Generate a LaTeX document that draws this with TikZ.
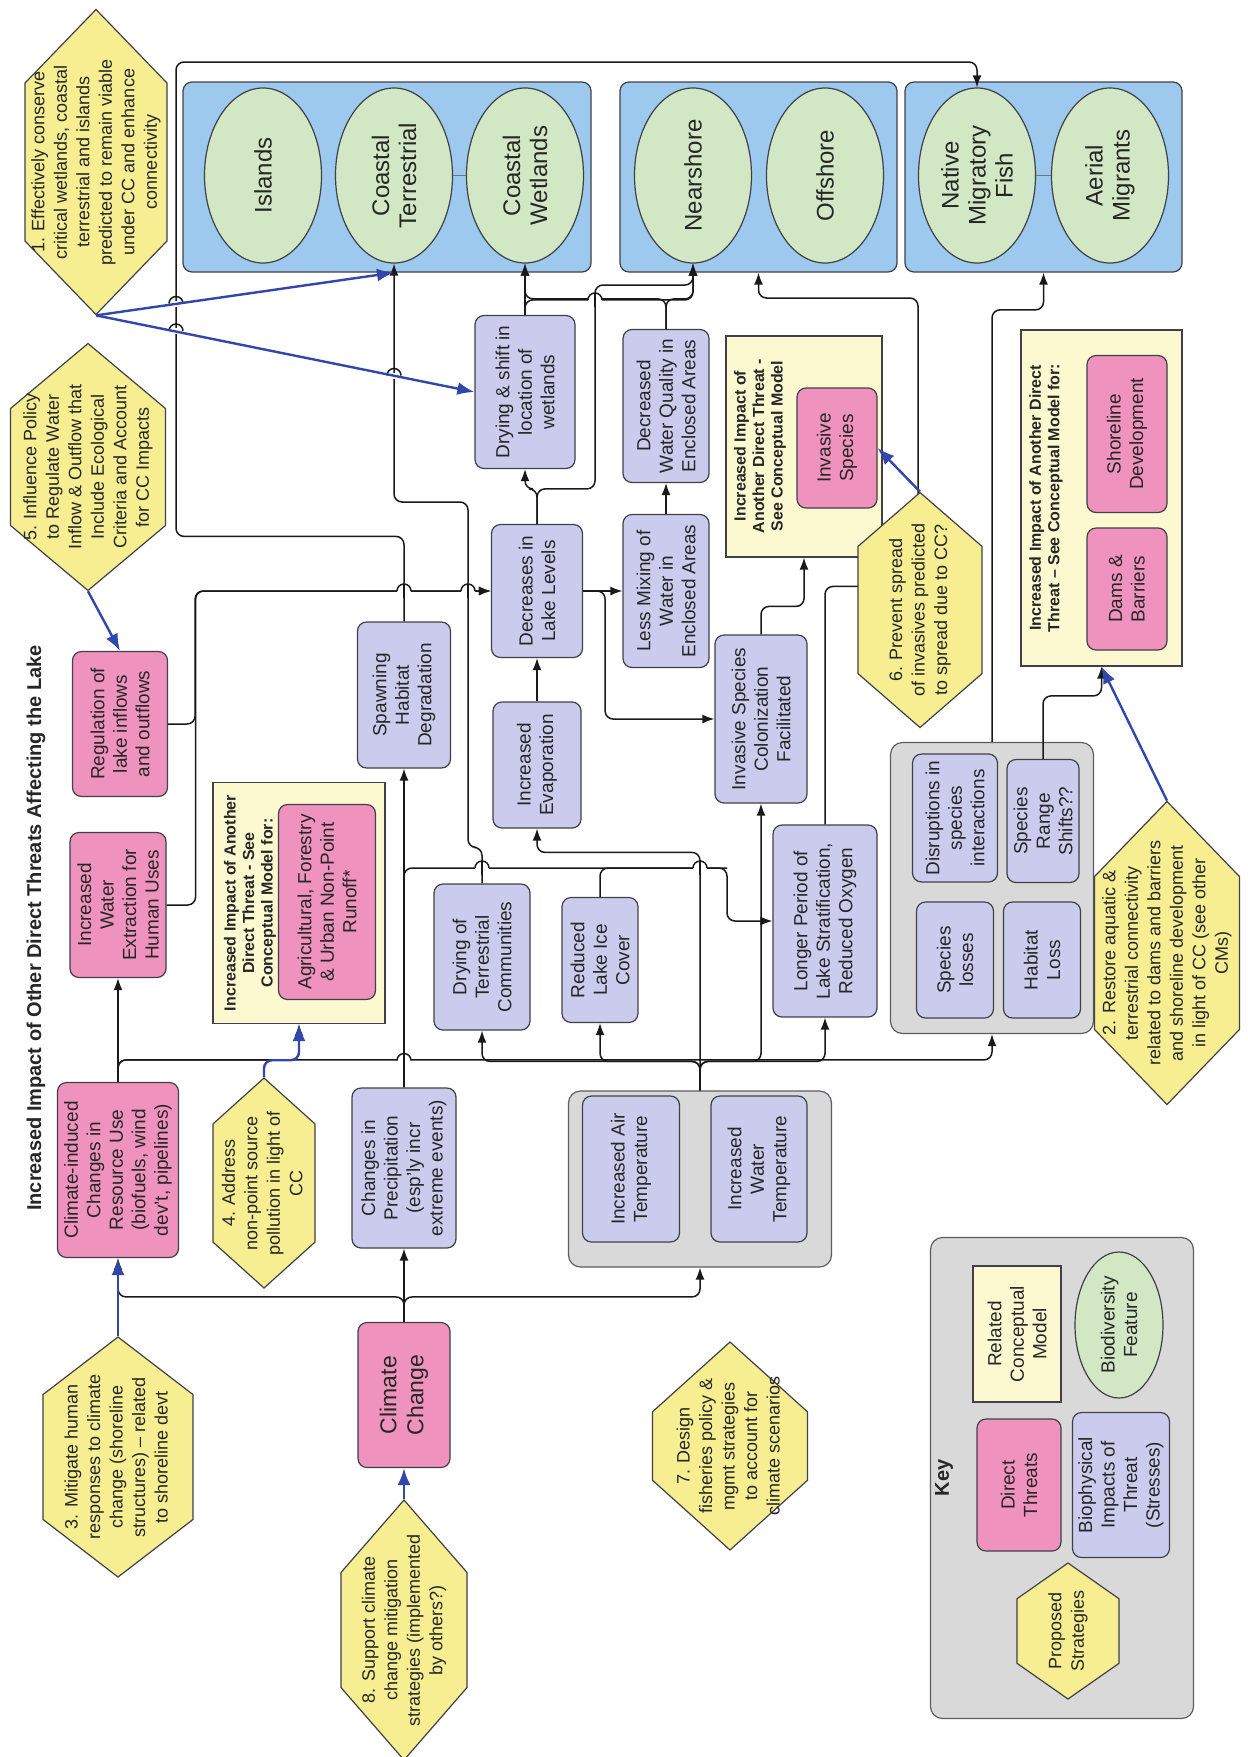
\documentclass[tikz,border=0pt]{standalone}
\usepackage{fontspec}
\setmainfont{Liberation Sans}
\usepackage{tikz}
\usetikzlibrary{shapes,arrows.meta,positioning,calc}

\definecolor{threatpink}{RGB}{240,146,190}
\definecolor{stresslav}{RGB}{203,203,238}
\definecolor{stratyellow}{RGB}{246,238,144}
\definecolor{rcmyellow}{RGB}{252,249,208}
\definecolor{biogreen}{RGB}{210,232,196}
\definecolor{grpblue}{RGB}{156,201,237}
\definecolor{grpgrey}{RGB}{217,217,217}
\definecolor{stratblue}{RGB}{50,70,172}
\definecolor{edgegrey}{RGB}{64,64,72}

% hexagon text that does not push the shape out
\newcommand{\hexlines}[1]{\smash{\makebox[0pt]{\raisebox{-.25em}{\begin{tabular}{@{}c@{}}#1\end{tabular}}}}}

\begin{document}
\begin{tikzpicture}[
    x=1pt, y=-1pt,
    every node/.style={rotate=90, align=center, text=black!85, inner sep=2pt},
    sz/.style 2 args={minimum height=#1pt, minimum width=#2pt},
    boxfont/.style={font=\fontsize{19}{22.5}\selectfont},
    threat/.style={rectangle, draw=edgegrey, line width=1.2pt, rounded corners=9pt, fill=threatpink, boxfont},
    stress/.style={rectangle, draw=edgegrey, line width=1.2pt, rounded corners=9pt, fill=stresslav, boxfont},
    bio/.style={ellipse, draw=edgegrey, line width=1.2pt, fill=biogreen, inner sep=0pt, font=\fontsize{24}{27}\selectfont},
    grp/.style={rectangle, draw=edgegrey, line width=1.2pt, rounded corners=9pt, fill=grpblue},
    greygrp/.style={rectangle, draw=edgegrey!85, line width=1.2pt, rounded corners=12pt, fill=grpgrey},
    rcm/.style={rectangle, draw=edgegrey, line width=1.2pt, fill=rcmyellow},
    rcmhead/.style={font=\bfseries\fontsize{16}{18.5}\selectfont, inner sep=0pt},
    strat/.style={signal, signal to=east and west, signal pointer angle=96, draw=edgegrey, line width=1.2pt, fill=stratyellow, inner sep=0pt, font=\fontsize{18}{22.5}\selectfont},
    conn/.style={->, >={Latex[length=12pt,width=9pt]}, draw=black!90, line width=1.5pt, rounded corners=8pt},
    connjoin/.style={draw=black!90, line width=1.5pt, rounded corners=8pt},
    stratarrow/.style={->, >={Latex[length=17pt,width=13pt]}, draw=stratblue, line width=2.4pt, rounded corners=8pt},
    pairline/.style={draw=grpblue!60!black, line width=1pt},
    hop/.pic={
      \fill[white] (-3,-7) rectangle (3,7);
      \draw[black!90, line width=1.5pt] (-7,0) -- (7,0);
      \draw[black!90, line width=1.5pt] (0,-7) arc[start angle=-90, end angle=90, radius=7];
    },
    hopfree/.pic={
      \fill[white] (-3,-7) rectangle (3,7);
      \draw[black!90, line width=1.5pt] (0,-7) arc[start angle=-90, end angle=90, radius=7];
    }
  ]
  \useasboundingbox (0,0) rectangle (1248,1757);
  \fill[white] (0,0) rectangle (1248,1757);

  \node[font=\bfseries\fontsize{20}{24}\selectfont] (title) at (36,928) {Increased Impact of Other Direct Threats Affecting the Lake};

  % biodiversity features
  \node[grp, sz={408}{190}] (grpA) at (387,177) {};
  \node[grp, sz={277}{190}] (grpB) at (758.5,177) {};
  \node[grp, sz={277}{190}] (grpC) at (1043.5,177) {};
  \node[bio, sz={117}{175}] (islands) at (263,175.5) {Islands};
  \node[bio, sz={117}{175}] (cterr) at (394,175.5) {Coastal\\Terrestrial};
  \node[bio, sz={117}{175}] (cwet) at (525,175.5) {Coastal\\Wetlands};
  \node[bio, sz={117}{175}] (nearsh) at (693,175.5) {Nearshore};
  \node[bio, sz={117}{175}] (offsh) at (825,175.5) {Offshore};
  \node[bio, sz={117}{175}] (natfish) at (977,175.5) {Native\\Migratory\\Fish};
  \node[bio, sz={117}{175}] (aerial) at (1110,175.5) {Aerial\\Migrants};
  \draw[pairline] (cterr.south) -- (cwet.north);
  \draw[pairline] (natfish.south) -- (aerial.north);

  % direct threats
  \node[threat, sz={92}{145}, font=\fontsize{23}{27}\selectfont] (climate) at (404,1395) {Climate\\Change};
  \node[threat, sz={121}{175}] (resuse) at (118,1170) {Climate-induced\\Changes in\\Resource Use\\(biofuels, wind\\dev't, pipelines)};
  \node[threat, sz={96}{145}] (extract) at (118,905) {Increased\\Water\\Extraction for\\Human Uses};
  \node[threat, sz={95}{145}] (regul) at (120,724) {Regulation of\\lake inflows\\and outflows};

  % related conceptual models
  \node[rcm, sz={172}{241}] (agrircm) at (299,903) {};
  \node[rcmhead] (agrihead) at (250,903) {Increased Impact of Another\\Direct Threat - See\\Conceptual Model for:};
  \node[threat, sz={97}{195}] (agri) at (327,902) {Agricultural, Forestry\\\& Urban Non-Point\\Runoff*};
  \node[rcm, sz={156}{221}] (invrcm) at (804,446.5) {};
  \node[rcmhead] (invhead) at (760,446) {Increased Impact of\\Another Direct Threat -\\See Conceptual Model};
  \node[threat, sz={80}{120}] (invsp) at (837,448) {Invasive\\Species};
  \node[rcm, sz={161}{336}] (damrcm) at (1101.5,498) {};
  \node[rcmhead] (damhead) at (1046,498) {Increased Impact of Another Direct\\Threat -- See Conceptual Model for:};
  \node[threat, sz={80}{122}] (dams) at (1127,589) {Dams \&\\Barriers};
  \node[threat, sz={80}{157}] (shore) at (1127,434) {Shoreline\\Development};

  % stresses
  \node[greygrp, sz={263}{176}] (tempgrp) at (700,1179) {};
  \node[stress, sz={97}{146}] (airt) at (631,1169) {Increased Air\\Temperature};
  \node[stress, sz={96}{146}] (watert) at (759,1169) {Increased\\Water\\Temperature};
  \node[greygrp, sz={203}{291}] (biogrp) at (992,888) {};
  \node[stress, sz={85}{128}] (disrupt) at (955,818) {Disruptions in\\species\\interactions};
  \node[stress, sz={72}{123}] (rangesh) at (1043,821) {Species\\Range\\Shifts??};
  \node[stress, sz={77}{116}] (sploss) at (955,960) {Species\\losses};
  \node[stress, sz={77}{116}] (habloss) at (1042,960) {Habitat\\Loss};
  \node[stress, sz={104}{160}] (precip) at (404,1168) {Changes in\\Precipitation\\(esp'ly incr\\extreme events)};
  \node[stress, sz={93}{146}] (spawn) at (404,695) {Spawning\\Habitat\\Degradation};
  \node[stress, sz={96}{146}] (dryterr) at (482,957) {Drying of\\Terrestrial\\Communities};
  \node[stress, sz={76}{125}] (ice) at (600,960) {Reduced\\Lake Ice\\Cover};
  \node[stress, sz={88}{126}] (evap) at (537,765) {Increased\\Evaporation};
  \node[stress, sz={91}{133}] (levels) at (537,591) {Decreases in\\Lake Levels};
  \node[stress, sz={100}{153}] (dryw) at (525,392) {Drying \& shift in\\location of\\wetlands};
  \node[stress, sz={86}{153}] (mixing) at (666,591) {Less Mixing of\\Water in\\Enclosed Areas};
  \node[stress, sz={86}{153}] (wq) at (666,406) {Decreased\\Water Quality in\\Enclosed Areas};
  \node[stress, sz={92}{168}] (colon) at (761,719) {Invasive Species\\Colonization\\Facilitated};
  \node[stress, sz={104}{192}] (stratif) at (825,921) {Longer Period of\\Lake Stratification,\\Reduced Oxygen};

  % proposed strategies
  \node[strat, sz={142}{305}, signal pointer angle=88] (conserve) at (96,162) {\hexlines{1. Effectively conserve\\critical wetlands, coastal\\terrestrial and islands\\predicted to remain viable\\under CC and enhance\\connectivity}};
  \node[strat, sz={155}{247}, signal pointer angle=100] (influence) at (88,467) {\hexlines{5. Influence Policy\\to Regulate Water\\Inflow \& Outflow that\\Include Ecological\\Criteria and Account\\for CC Impacts}};
  \node[strat, sz={150}{240}, signal pointer angle=105] (mitigate) at (118,1457) {\hexlines{3. Mitigate human\\responses to climate\\change (shoreline\\structures) -- related\\to shoreline devt}};
  \node[strat, sz={102}{210}] (nonpoint) at (264,1183) {\hexlines{4. Address\\non-point source\\pollution in light of\\CC}};
  \node[strat, sz={126}{260}, signal pointer angle=82] (support) at (404,1630) {\hexlines{8. Support climate\\change mitigation\\strategies (implemented\\by others?)}};
  \node[strat, sz={155}{208}] (fishpol) at (730,1446) {\hexlines{7. Design\\fisheries policy \&\\mgmt strategies\\to account for\\climate scenarios}};
  \node[strat, sz={145}{303}, signal pointer angle=88] (restore) at (1167,953) {\hexlines{2. Restore aquatic \&\\terrestrial connectivity\\related to dams and barriers\\and shoreline development\\in light of CC (see other\\CMs)}};

  % key
  \node[greygrp, sz={263}{481}] (keybox) at (1062,1478) {};
  \node[font=\bfseries\fontsize{20}{24}\selectfont] (keytitle) at (944,1478) {Key};
  \node[rcm, boxfont, sz={88}{136}] (krcm) at (1017,1334) {Related\\Conceptual\\Model};
  \node[bio, font=\fontsize{19}{22.5}\selectfont, sz={88}{146}] (kbio) at (1119,1325) {Biodiversity\\Feature};
  \node[threat, sz={84}{132}] (kthreat) at (1019,1485) {Direct\\Threats};
  \node[stress, sz={97}{145}] (kstress) at (1121,1485) {Biophysical\\Impacts of\\Threat\\(Stresses)};
  \node[strat, sz={102}{136}, signal pointer angle=110] (kstrat) at (1068,1631) {\hexlines{Proposed\\Strategies}};

  % climate change and its direct results
  \draw[conn] (climate.east) -- (climate.east |- precip.west);
  \draw[conn] (climate.east) -- ++(0,-25) -| (resuse.west);
  \draw[conn] (climate.east) -- ++(0,-25) -| (tempgrp.west);
  \draw[conn] (resuse.east) -- (extract.west);
  \draw[conn] (resuse.east) -- ++(0,-22) -| (agrircm.west);
  \draw[conn] (resuse.east) -- ++(0,-22) -| (biogrp.west);

  % temperature
  \draw[conn] (tempgrp.east) -- ++(0,-29) -| (dryterr.west);
  \draw[conn] (tempgrp.east) -- ++(0,-29) -| (ice.west);
  \draw[conn] (tempgrp.east) -- ++(0,-29) -| (stratif.west);
  \draw[conn] (tempgrp.east) -- ++(0,-29) -| (colon.west);
  \draw[conn] (tempgrp.east) -- ++(0,-238) -| (evap.west);

  % precipitation and ice
  \draw[conn] (precip.east) -- (spawn.west);
  \draw[conn] (precip.east) |- (727,868) |- (stratif.north);
  \draw[connjoin] (ice.east) |- (727,868);

  % water levels
  \draw[conn] (regul.south) -- ++(27,0) |- (levels.north);
  \draw[conn] (extract.south) -- ++(29,0) |- (levels.north);
  \draw[conn] (evap.east) -- (levels.west);
  \draw[conn] (levels.south) -- (mixing.north);
  \draw[conn] (levels.south) -- ++(22,0) |- (colon.north);
  \draw[conn] (levels.east) -- ++(0,-35) -| (dryw.west);
  \draw[conn] (levels.east) -- ++(0,-35) -| (595,285) -| (nearsh.west);
  \draw[conn] (mixing.east) -- (wq.west);
  \draw[conn] (dryw.east) -- (cwet.west);
  \draw[conn] (dryw.east) -- ++(0,-15) -| (nearsh.west);
  \draw[conn] (wq.east) -- ++(0,-30) -| (nearsh.west);
  \draw[conn] (wq.east) -- ++(0,-30) -| (cwet.west);

  % to the features
  \draw[conn] (dryterr.east) -- ++(0,-36) -| (468,502) -| (cterr.west);
  \draw[conn] (spawn.east) -- ++(0,-85) -| (176,62) -| (natfish.east);
  \draw[conn] (colon.east) -- ++(0,-28) -| (invrcm.west);
  \draw[conn] (stratif.east) -- ++(0,-238) -| (918,298) -| (grpB.west);
  \draw[conn] (biogrp.east) -- ++(0,-432) -| (grpC.west);
  \draw[conn] (rangesh.east) -- ++(0,-63) -| (damrcm.west);

  % line jumps
  \pic at (404,591) {hop};
  \pic at (468,591) {hop};
  \pic at (482,868) {hop};
  \pic at (700,868) {hop};
  \pic at (404,1060.5) {hop};
  \pic at (595,300) {hop};
  \pic at (176,303.5) {hopfree};
  \pic at (176,331) {hopfree};
  \pic at (394,375.5) {hopfree};

  \node[strat, sz={124}{235}, signal pointer angle=98] (prevent) at (920,610) {\hexlines{6. Prevent spread\\of invasives predicted\\to spread due to CC?}};

  % strategies
  \draw[stratarrow] (conserve.west) -- (cterr.west |- grpA.west);
  \draw[stratarrow] (conserve.west) -- (dryw.north);
  \draw[stratarrow] (influence.west) -- (regul.east);
  \draw[stratarrow] (mitigate.east) -- (resuse.west);
  \draw[stratarrow] (nonpoint.east) -- ++(0,-17) -| (agrircm.west);
  \draw[stratarrow] (support.east) -- (climate.west);
  \draw[stratarrow] (prevent.east) -- (invsp.south);
  \draw[stratarrow] (restore.east) -- (damrcm.west);
\end{tikzpicture}
\end{document}
